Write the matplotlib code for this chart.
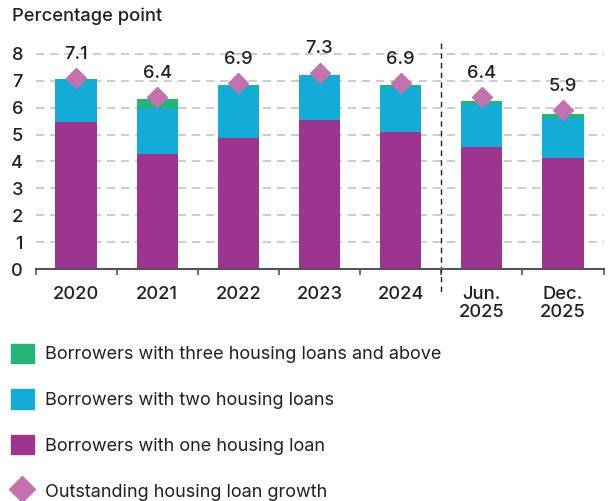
import numpy as np
import matplotlib
matplotlib.use("Agg")
import matplotlib.pyplot as plt
from matplotlib.patches import Patch
from matplotlib.lines import Line2D
import matplotlib.transforms as mtransforms

plt.rcParams['font.family'] = ['Inter', 'DejaVu Sans']

# housing loan growth split by borrower type (percentage points)
periods = ["2020", "2021", "2022", "2023", "2024", "Jun.\n2025", "Dec.\n2025"]
one_loan = [5.45, 4.27, 4.86, 5.54, 5.09, 4.54, 4.14]
two_loans = [1.61, 1.70, 1.95, 1.68, 1.69, 1.58, 1.46]
three_plus = [0.00, 0.34, 0.02, 0.00, 0.04, 0.13, 0.16]
growth = [7.1, 6.4, 6.9, 7.3, 6.9, 6.4, 5.9]

labels = ["Borrowers with three housing loans and above",
          "Borrowers with two housing loans",
          "Borrowers with one housing loan",
          "Outstanding housing loan growth"]

PURPLE = "#9b358f"
BLUE = "#12acd6"
GREEN = "#22b573"
PINK = "#c472ae"
TEXT = "#231f20"
FS = 13.2

fig = plt.figure(figsize=(6.08, 5.01), dpi=100)
ax = fig.add_axes([0.0584, 0.4625, 0.9342, 0.4734])

x = np.arange(len(periods))
w = 0.51
bottom2 = np.array(one_loan)
bottom3 = bottom2 + np.array(two_loans)
ax.bar(x, one_loan, w, color=PURPLE, zorder=2)
ax.bar(x, two_loans, w, bottom=bottom2, color=BLUE, zorder=2)
ax.bar(x, three_plus, w, bottom=bottom3, color=GREEN, zorder=2)
ax.plot(x, growth, linestyle="none", marker="D", markersize=10.5,
        color=PINK, zorder=3)
for xi, g in zip(x, growth):
    ax.annotate(f"{g:.1f}", (xi, g), xytext=(0, 17), textcoords="offset points",
                ha="center", va="center", fontsize=FS, fontweight="medium",
                color=TEXT)

ax.set_xlim(-0.5, len(periods) - 0.5)
ax.set_ylim(0, 8.8)
ax.set_yticks(range(0, 9))
ax.tick_params(axis="y", length=0, pad=9, labelsize=FS, labelcolor=TEXT)
ax.yaxis.grid(True, color="#c4c4c4", linestyle=(0, (5, 3.5)), linewidth=1.2)
ax.set_axisbelow(True)

ax.set_xticks(x)
ax.set_xticklabels(periods)
ax.set_xticks(np.arange(-0.5, len(periods)), minor=True)
ax.tick_params(axis="x", which="major", length=0, pad=12, labelsize=FS,
               labelcolor=TEXT)
ax.tick_params(axis="x", which="minor", length=4.5, width=1.2, color="#555555")
for lbl in ax.get_xticklabels() + ax.get_yticklabels():
    lbl.set_fontweight("medium")
for lbl in ax.get_xticklabels():
    lbl.set_linespacing(1.05)

for side in ("top", "right", "left"):
    ax.spines[side].set_visible(False)
ax.spines["bottom"].set_color("#555555")
ax.spines["bottom"].set_linewidth(1.5)

# separator between annual and half-year figures
trans = mtransforms.blended_transform_factory(ax.transData, ax.transAxes)
ax.plot([4.5, 4.5], [0.954, -0.108], transform=trans, color="#222222",
        linewidth=1, linestyle=(0, (4, 3)), clip_on=False)

fig.text(0.0197, 0.967, "Percentage point", fontsize=FS, fontweight="medium",
         color=TEXT, ha="left", va="center")

handles = [Patch(color=GREEN), Patch(color=BLUE), Patch(color=PURPLE),
           Line2D([], [], linestyle="none", marker="D", markersize=13,
                  color=PINK)]
fig.legend(handles, labels, loc="upper left", bbox_to_anchor=(0.018, 0.314),
           frameon=False, fontsize=13, handlelength=1.27, handleheight=1.27,
           handletextpad=0.62, labelspacing=1.44, borderpad=0,
           borderaxespad=0, labelcolor=TEXT)

fig.savefig("out.png", dpi=100)
